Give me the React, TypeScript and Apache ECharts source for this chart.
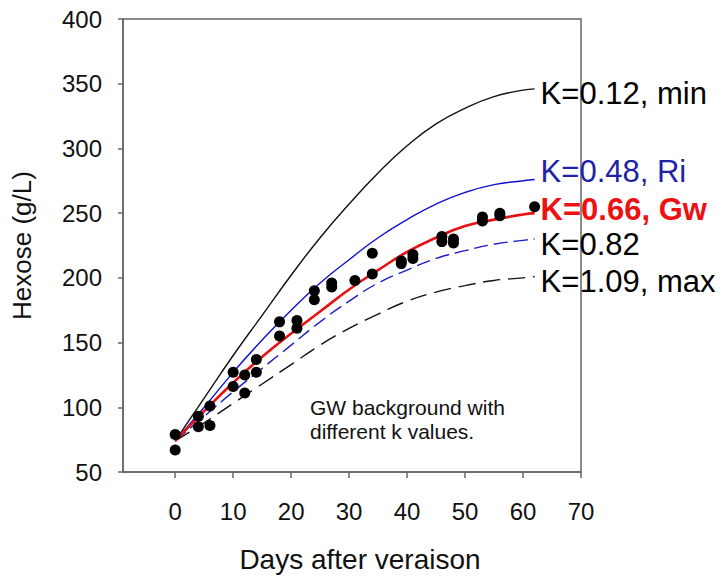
import React, { useEffect, useRef } from "react";
import * as echarts from "echarts";

const curveDays = [0, 5, 10, 15, 20, 25, 30, 35, 40, 45, 50, 55, 60, 62];
const kMin = [74, 107, 140, 171, 202, 231, 257, 281, 302, 319, 331, 340, 345, 346];
const kRi = [74, 100, 127, 152, 175, 196, 214, 231, 245, 257, 266, 272, 275, 276];
const kGw = [74, 97, 119, 139, 157, 174, 191, 206, 220, 231, 240, 245, 249, 250];
const k082 = [74, 93, 112, 130, 148, 166, 182, 196, 206, 215, 221, 226, 229, 230];
const kMax = [74, 88, 103, 118, 133, 148, 161, 172, 182, 189, 194, 198, 200, 201];

const obsDays = [0, 0, 4, 4, 6, 6, 10, 10, 12, 12, 14, 14, 18, 18, 21, 21, 24, 24, 27, 27, 31, 34, 34, 39, 39, 41, 41, 46, 46, 48, 48, 53, 53, 56, 56, 62];
const obsHexose = [79, 67, 93, 85, 86, 101, 127, 116, 125, 111, 137, 127, 166, 155, 167, 161, 190, 183, 196, 193, 198, 219, 203, 211, 213, 218, 215, 232, 228, 230, 227, 247, 244, 250, 248, 255];

const xTicks = [0, 10, 20, 30, 40, 50, 60, 70];
const curveLabels = ["K=0.12, min", "K=0.48, Ri", "K=0.66, Gw", "K=0.82", "K=1.09, max"];

const FONT = "'Liberation Sans', Arial, sans-serif";

export default function App() {
  const ref = useRef<HTMLDivElement>(null);
  useEffect(() => {
    const chart = echarts.init(ref.current!, null, { renderer: "svg" });
    const pair = (ys: number[]) => curveDays.map((d, i) => [d, ys[i]]);
    const lineSeries = (
      name: string,
      ys: number[],
      color: string,
      width: number,
      type: any,
      labelColor: string,
      dy: number,
      bold = false
    ) => ({
      type: "line",
      name,
      data: pair(ys),
      smooth: true,
      showSymbol: false,
      symbol: "none",
      lineStyle: { color, width, type },
      z: 2,
      endLabel: {
        show: true,
        formatter: name,
        color: labelColor,
        fontFamily: FONT,
        fontSize: 31,
        fontWeight: bold ? "bold" : "normal",
        distance: 6,
        offset: [0, dy],
      },
    });
    chart.setOption({
      animation: false,
      grid: {
        left: 123,
        top: 19,
        width: 458,
        height: 457,
        show: true,
        borderColor: "#666",
        borderWidth: 1.5,
        backgroundColor: "transparent",
      },
      xAxis: {
        type: "value",
        min: -9,
        max: 70,
        name: "Days after veraison",
        nameLocation: "middle",
        nameGap: 73,
        nameTextStyle: { fontFamily: FONT, fontSize: 28, color: "#111", padding: [0, 0, 0, 16] },
        splitLine: { show: false },
        axisLine: { onZero: false, lineStyle: { color: "#666", width: 1.5 } },
        axisTick: { customValues: xTicks, length: 6, lineStyle: { color: "#666", width: 1.5 } },
        axisLabel: { customValues: xTicks, fontFamily: FONT, fontSize: 24, color: "#111", margin: 27 },
      },
      yAxis: {
        type: "value",
        min: 50,
        max: 400,
        interval: 50,
        name: "Hexose (g/L)",
        nameLocation: "middle",
        nameGap: 88,
        nameTextStyle: { fontFamily: FONT, fontSize: 26, color: "#111" },
        splitLine: { show: false },
        axisLine: { onZero: false, lineStyle: { color: "#666", width: 1.5 } },
        axisTick: { length: 5, lineStyle: { color: "#666", width: 1.5 } },
        axisLabel: { fontFamily: FONT, fontSize: 24, color: "#111", margin: 21 },
      },
      series: [
        lineSeries(curveLabels[0], kMin, "#111", 1.4, "solid", "#000", 5),
        lineSeries(curveLabels[1], kRi, "#1010d0", 1.4, "solid", "#2222a8", -8),
        lineSeries(curveLabels[3], k082, "#1a1ad0", 1.4, [14, 6], "#000", 5),
        lineSeries(curveLabels[4], kMax, "#111", 1.4, [17, 8], "#000", 5),
        lineSeries(curveLabels[2], kGw, "#e81010", 2.6, "solid", "#ee1111", -4, true),
        {
          type: "scatter",
          name: "Observed",
          data: obsDays.map((d, i) => [d, obsHexose[i]]),
          symbol: "circle",
          symbolSize: 11,
          itemStyle: { color: "#000", opacity: 1 },
          z: 3,
        },
      ],
      graphic: [
        {
          type: "text",
          left: 310,
          top: 395,
          style: {
            text: "GW background with\ndifferent k values.",
            font: `21px ${FONT}`,
            fill: "#111",
            lineHeight: 24,
          },
        },
      ],
    });
    return () => chart.dispose();
  }, []);
  return (
    <div
      ref={ref}
      style={{ position: "absolute", left: 0, top: 0, width: 723, height: 578, background: "#fff" }}
    />
  );
}
